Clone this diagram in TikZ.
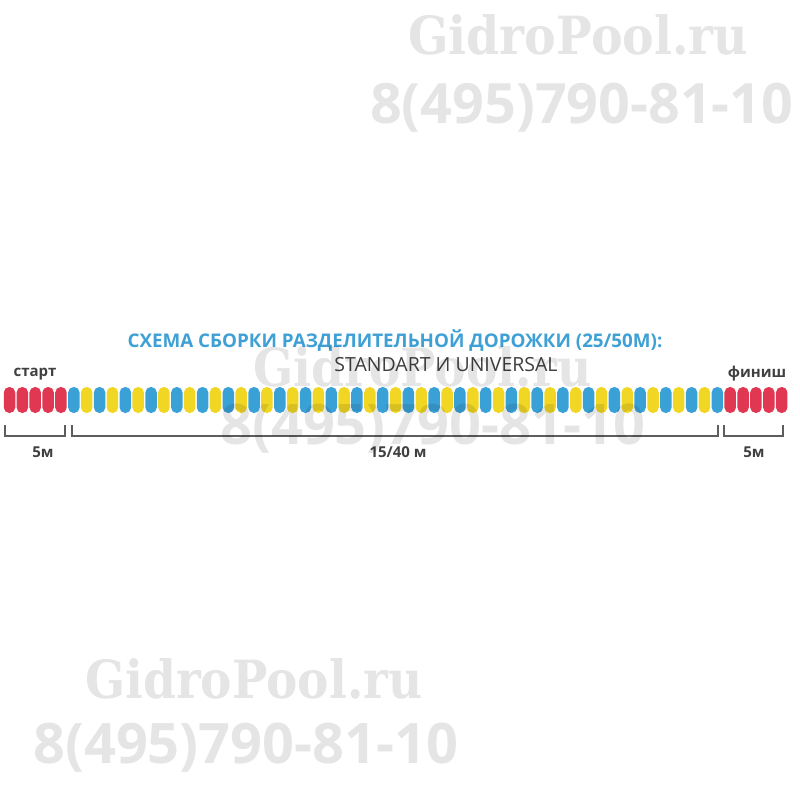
\documentclass[tikz,border=0pt]{standalone}
\usepackage{fontspec}
\setmainfont{Open Sans}
\newfontfamily\wmserif{DejaVu Serif}
\usetikzlibrary{positioning,calc}

\definecolor{floatred}{RGB}{224,55,82}
\definecolor{floatblue}{RGB}{58,161,215}
\definecolor{floatyellow}{RGB}{241,214,36}
\definecolor{titleblue}{RGB}{62,160,212}
\definecolor{labelgray}{RGB}{64,64,64}

\begin{document}
\begin{tikzpicture}[x=1pt,y=-1pt,
	bead/.style={rectangle,rounded corners=5.5pt,minimum width=11.5pt,minimum height=26pt,inner sep=0pt},
	bracket/.style={draw=labelgray!85,line width=1.8pt},
	lbl/.style={inner sep=0pt,text=labelgray,font=\bfseries\fontsize{15}{15}\selectfont},
	watermark/.style={inner sep=0pt,anchor=base west,text=black,text opacity=0.1}]

\useasboundingbox (0,0) rectangle (800,800);

% title
\node[inner sep=0pt,text=titleblue,font=\bfseries\fontsize{18.8}{18.8}\selectfont](title) at (395,341) {СХЕМА СБОРКИ РАЗДЕЛИТЕЛЬНОЙ ДОРОЖКИ (25/50М):};
\node[inner sep=0pt,text=labelgray,font=\fontsize{19.5}{19.5}\selectfont](subtitle) at (446,365) {STANDART И UNIVERSAL};

% floats: 5 red, 51 blue/yellow, 5 red
\foreach \i in {1,...,61}{
	\pgfmathsetmacro\bx{9.5+12.87*(\i-1)}
	\ifnum\i<6{
		\node[bead,fill=floatred](b\i) at (\bx,400) {};
	}\else{
		\ifnum\i>56{
			\node[bead,fill=floatred](b\i) at (\bx,400) {};
		}\else{
			\ifodd\i{
				\node[bead,fill=floatyellow](b\i) at (\bx,400) {};
			}\else{
				\node[bead,fill=floatblue](b\i) at (\bx,400) {};
			}\fi
		}\fi
	}\fi
}

\node[lbl](start) at (35,374) {старт};
\node[lbl](finish) at (757,374) {финиш};

% brackets
\foreach \n/\l/\r/\t/\lx in {s/5/65/5м/43,m/72/718/15\slash40 м/398,f/724/783/5м/754}{
	\coordinate(\n l) at (\l,425);
	\coordinate(\n r) at (\r,425);
	\draw[bracket](\n l)--++(0,11)-|(\n r);
	\node[lbl](\n len) at (\lx,452) {\t};
}

% watermarks
\node[watermark](wm1) at (408,55) {\resizebox{340pt}{40pt}{\wmserif\bfseries GidroPool.ru}};
\node[watermark](wm2) at (370,123) {\resizebox{423pt}{!}{\bfseries 8(495)790-81-10}};
\node[watermark](wm3) at (253,386) {\resizebox{338pt}{40pt}{\wmserif\bfseries GidroPool.ru}};
\node[watermark](wm4) at (220,444) {\resizebox{425pt}{!}{\bfseries 8(495)790-81-10}};
\node[watermark](wm5) at (85,698) {\resizebox{337pt}{40pt}{\wmserif\bfseries GidroPool.ru}};
\node[watermark](wm6) at (33,763) {\resizebox{425pt}{!}{\bfseries 8(495)790-81-10}};
\end{tikzpicture}
\end{document}
